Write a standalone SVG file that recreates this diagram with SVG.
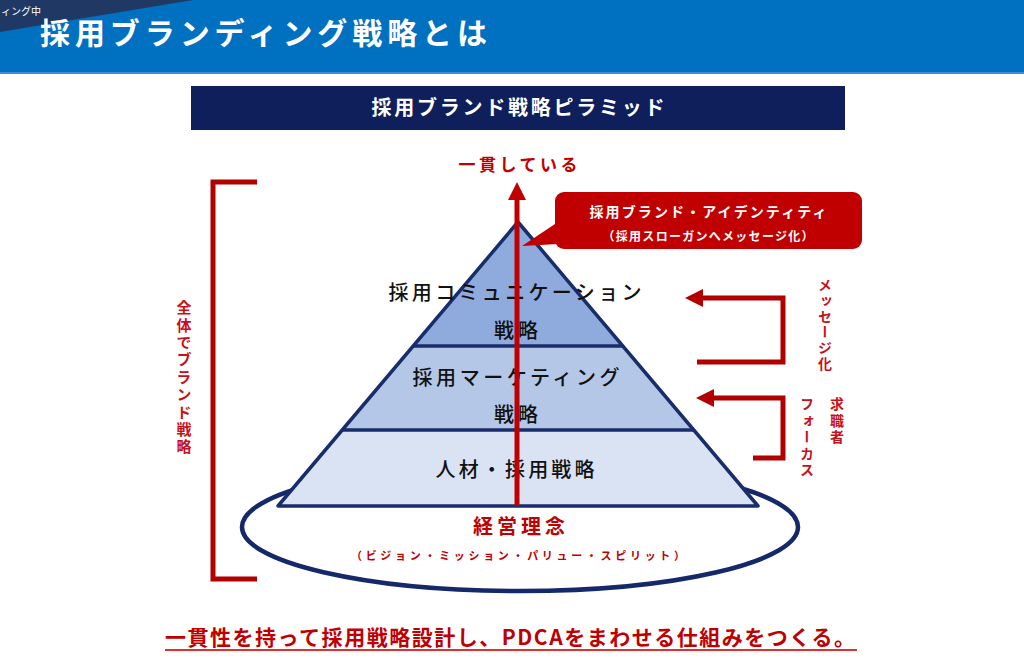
<svg xmlns="http://www.w3.org/2000/svg" width="1024" height="665" viewBox="0 0 1024 665">
<style>
text{font-family:"Noto Sans CJK JP","Noto Sans",sans-serif;}
.w{fill:#ffffff;font-weight:700;}
.red{fill:#C00000;font-weight:700;}
.blk{fill:#111111;font-weight:500;font-size:20px;}
.vt{writing-mode:vertical-rl;fill:#C8101A;font-weight:700;}
.tier{stroke:none;}
.edge{stroke:#1A2D6B;stroke-width:3.5;fill:none;stroke-linejoin:round;}
.arr{stroke:#B00000;stroke-width:5;fill:none;}
</style>
<rect width="1024" height="665" fill="#ffffff"/>
<g id="header">
<rect x="0" y="0" width="1024" height="73" fill="#0070C0"/>
<rect x="0" y="72" width="1024" height="2" fill="#3A8FD8"/>
<polygon points="0,0 193,0 0,32" fill="#203864"/>
<text x="1" y="15" font-size="10" fill="#ffffff">ィング中</text>
<text class="w" x="40" y="44" font-size="30" textLength="447" lengthAdjust="spacing">採用ブランディング戦略とは</text>
</g>
<g id="subtitle">
<rect x="191" y="86" width="654" height="44" fill="#0F1F5C"/>
<text class="w" x="518" y="115" font-size="20" text-anchor="middle" textLength="293" lengthAdjust="spacing">採用ブランド戦略ピラミッド</text>
</g>
<g id="foundation">
<ellipse cx="520" cy="527" rx="278" ry="64" fill="#ffffff" stroke="#14286A" stroke-width="4.5"/>
<text class="red" x="519" y="534" font-size="20" text-anchor="middle" textLength="92" lengthAdjust="spacing">経営理念</text>
<text x="518" y="560" font-size="11" fill="#C00000" font-weight="700" text-anchor="middle" textLength="334" lengthAdjust="spacing">（ビジョン・ミッション・パリュー・スピリット）</text>
</g>
<g id="pyramid">
<polygon class="tier" points="518,222 413,346 623,346" fill="#8FAADC"/>
<polygon class="tier" points="413,346 623,346 694,430 342,430" fill="#B4C7E7"/>
<polygon class="tier" points="342,430 694,430 758,506 278,506" fill="#DAE3F3"/>
<polygon class="edge" points="518,222 758,506 278,506"/>
<line class="edge" x1="413" y1="346" x2="623" y2="346"/>
<line class="edge" x1="342" y1="430" x2="694" y2="430"/>
</g>
<g id="tier-communication">
<text class="blk" x="515" y="300" text-anchor="middle" textLength="253" lengthAdjust="spacing">採用コミュニケーション</text>
<text class="blk" x="516" y="338" text-anchor="middle" textLength="44" lengthAdjust="spacing">戦略</text>
</g>
<g id="tier-marketing">
<text class="blk" x="516" y="385" text-anchor="middle" textLength="207" lengthAdjust="spacing">採用マーケティング</text>
<text class="blk" x="516" y="422" text-anchor="middle" textLength="44" lengthAdjust="spacing">戦略</text>
</g>
<g id="tier-hr">
<text class="blk" x="515" y="477" text-anchor="middle" textLength="159" lengthAdjust="spacing">人材・採用戦略</text>
</g>
<g id="connectors">
<line x1="517" y1="506" x2="517" y2="198" stroke="#C00000" stroke-width="5"/>
<polygon points="508,200 517,182 526,200" fill="#C00000"/>
<polyline class="arr" points="257,182 213,182 213,579 257,579"/>
<polyline class="arr" points="700,298 783,298 783,362 697,362"/>
<polygon points="685,298 703,289 703,307" fill="#B00000"/>
<polyline class="arr" points="711,398 783,398 783,458 753,458"/>
<polygon points="696,398 714,389 714,407" fill="#B00000"/>
</g>
<g id="tagline">
<text class="red" x="518" y="171" font-size="17" text-anchor="middle" textLength="119" lengthAdjust="spacing">一貫している</text>
</g>
<g id="callout">
<rect x="555" y="192" width="307" height="57" rx="9" fill="#C00000"/>
<polygon points="558,222 522,246 558,244" fill="#C00000"/>
<text class="w" x="708" y="217" font-size="14" text-anchor="middle" textLength="237" lengthAdjust="spacing">採用ブランド・アイデンティティ</text>
<text class="w" x="708" y="241" font-size="12" text-anchor="middle" textLength="211" lengthAdjust="spacing">（採用スローガンへメッセージ化）</text>
</g>
<g id="label-whole">
<text class="vt" x="184" y="300" font-size="15" letter-spacing="2.4">全体でブランド戦略</text>
</g>
<g id="label-message">
<text class="vt" x="825" y="278" font-size="14" letter-spacing="1.7">メッセージ化</text>
</g>
<g id="label-focus">
<text class="vt" x="837" y="397" font-size="14" letter-spacing="2.5">求職者</text>
<text class="vt" x="807" y="397" font-size="14" letter-spacing="2.5">フォーカス</text>
</g>
<g id="conclusion">
<text class="red" x="165" y="645" font-size="21" textLength="690" lengthAdjust="spacing">一貫性を持って採用戦略設計し、PDCAをまわせる仕組みをつくる。</text>
<line x1="165" y1="650" x2="857" y2="650" stroke="#E03030" stroke-width="2"/>
</g>
</svg>
